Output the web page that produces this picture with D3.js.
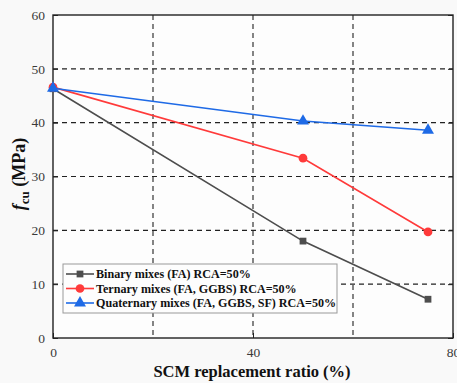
<!DOCTYPE html>
<html lang="en">
<head>
    <meta charset="UTF-8">
    <title>fcu vs SCM replacement ratio</title>
    <script src="https://d3js.org/d3.v7.min.js"></script>
    <style>
        body{margin:0;background:#f9f9f9;}
        .tick-lbl{font-family:"Liberation Serif","Times New Roman",serif;font-size:13.5px;fill:#3a3a3a;}
        .ttl{font-family:"Liberation Serif","Times New Roman",serif;font-weight:bold;fill:#111;}
        .leg{font-family:"Liberation Serif","Times New Roman",serif;font-weight:bold;font-size:12.1px;fill:#111;}
    </style>
</head>
<body>
<svg id="main" width="457" height="383"></svg>
<script>
    // data
    let ratio = [0, 50, 75];
    let binary = [46.3, 18.0, 7.2];
    let ternary = [46.6, 33.4, 19.7];
    let quaternary = [46.4, 40.3, 38.6];
    let seriesNames = ['Binary mixes (FA) RCA=50%',
        'Ternary mixes (FA, GGBS) RCA=50%',
        'Quaternary mixes (FA, GGBS, SF) RCA=50%'];
    let xTickVals = [0, 40, 80];
    let xGridVals = [20, 40, 60];
    let yTickVals = [0, 10, 20, 30, 40, 50, 60];

    let colors = ['#4d4d4d', '#ff3a3a', '#1e6ae6'];
    let shapes = [d3.symbolSquare, d3.symbolCircle, d3.symbolTriangle];
    let symSize = [46, 60, 62];

    let svg = d3.select('svg#main');
    let pL = 53, pR = 453, pT = 15, pB = 338;

    let x = d3.scaleLinear().domain([0, 80]).range([pL, pR]);
    let y = d3.scaleLinear().domain([0, 60]).range([pB, pT]);

    svg.append('rect').attr('x', pL).attr('y', pT)
        .attr('width', pR - pL).attr('height', pB - pT)
        .attr('fill', '#fdfdfd');

    // dashed grid
    svg.append('g').selectAll('line').data([10, 20, 30, 40, 50]).enter().append('line')
        .attr('x1', pL).attr('x2', pR)
        .attr('y1', d => y(d)).attr('y2', d => y(d))
        .attr('stroke', '#222').attr('stroke-width', 1.1).attr('stroke-dasharray', '5,4');
    svg.append('g').selectAll('line').data(xGridVals).enter().append('line')
        .attr('y1', pT).attr('y2', pB)
        .attr('x1', d => x(d)).attr('x2', d => x(d))
        .attr('stroke', '#222').attr('stroke-width', 1.1).attr('stroke-dasharray', '5,4');

    // inward ticks
    let yl = d3.axisLeft(y).tickValues(yTickVals).tickSize(-5).tickPadding(8);
    let yr = d3.axisRight(y).tickValues(yTickVals).tickSize(-5).tickFormat('');
    let xb = d3.axisBottom(x).tickValues(xTickVals).tickSize(-5).tickPadding(9);
    let gl = svg.append('g').attr('transform', `translate(${pL},0)`).call(yl);
    let gr = svg.append('g').attr('transform', `translate(${pR},0)`).call(yr);
    let gb = svg.append('g').attr('transform', `translate(0,${pB})`).call(xb);
    [gl, gr, gb].forEach(g => {
        g.select('.domain').remove();
        g.selectAll('.tick line').attr('stroke', '#222');
        g.selectAll('.tick text').attr('class', 'tick-lbl');
    });

    // frame
    svg.append('rect').attr('x', pL).attr('y', pT)
        .attr('width', pR - pL).attr('height', pB - pT)
        .attr('fill', 'none').attr('stroke', '#222').attr('stroke-width', 1.4);

    let all = [binary, ternary, quaternary];
    let line = d3.line().x((d, i) => x(ratio[i])).y(d => y(d));
    all.forEach(function (vals, k) {
        svg.append('path').datum(vals).attr('d', line)
            .attr('fill', 'none').attr('stroke', colors[k]).attr('stroke-width', 1.6);
        svg.append('g').selectAll('path').data(vals).enter().append('path')
            .attr('d', d3.symbol().type(shapes[k]).size(symSize[k]))
            .attr('transform', (d, i) => `translate(${x(ratio[i])},${y(d)})`)
            .attr('fill', colors[k]);
    });

    // legend
    let lg = svg.append('g').attr('transform', 'translate(63,264)');
    lg.append('rect').attr('width', 274).attr('height', 49)
        .attr('fill', '#fdfdfd').attr('stroke', '#999').attr('stroke-width', 1);
    seriesNames.forEach(function (name, k) {
        let yy = 10 + k * 14.5;
        lg.append('line').attr('x1', 3).attr('x2', 31).attr('y1', yy).attr('y2', yy)
            .attr('stroke', colors[k]).attr('stroke-width', 1.6);
        lg.append('path').attr('d', d3.symbol().type(shapes[k]).size(symSize[k]))
            .attr('transform', `translate(17,${yy})`).attr('fill', colors[k]);
        lg.append('text').attr('class', 'leg').attr('x', 33).attr('y', yy + 4).text(name);
    });

    // axis titles
    svg.append('text').attr('class', 'ttl').attr('x', (pL + pR) / 2 - 1).attr('y', 377)
        .attr('text-anchor', 'middle').style('font-size', '16.5px').text('SCM replacement ratio (%)');
    let yt = svg.append('text').attr('class', 'ttl')
        .attr('transform', 'translate(25,174) rotate(-90)')
        .attr('text-anchor', 'middle').style('font-size', '18px');
    yt.append('tspan').style('font-style', 'italic').text('f');
    yt.append('tspan').attr('dy', 4).style('font-size', '13px').text('cu');
    yt.append('tspan').attr('dy', -4).text(' (MPa)');
</script>
</body>
</html>
